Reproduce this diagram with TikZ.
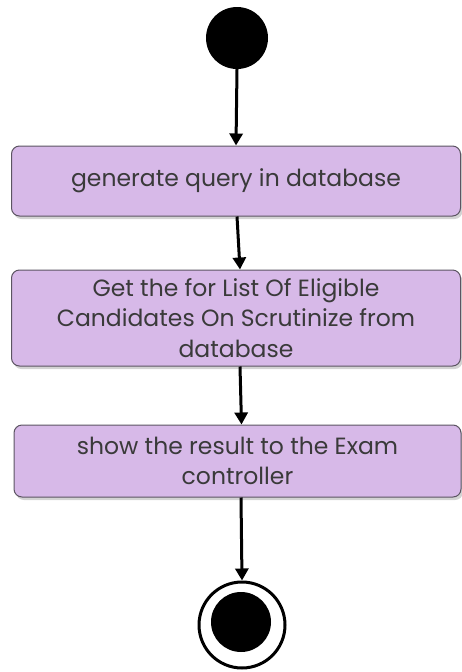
\documentclass[tikz,border=0pt]{standalone}
\usepackage{fontspec}
\setmainfont{Poppins}
\usetikzlibrary{arrows.meta,shadows}
\definecolor{boxfill}{HTML}{D7B9E8}
\definecolor{boxline}{HTML}{5C5462}
\definecolor{txt}{HTML}{3A3A3A}
\begin{document}
\begin{tikzpicture}[x=1pt,y=-1pt,
  act/.style={draw=boxline, line width=1pt, fill=boxfill, rounded corners=8pt,
    text=txt, font=\fontsize{23.5}{30.5}\selectfont, align=center, inner sep=2pt,
    drop shadow={shadow xshift=2pt, shadow yshift=-3pt, opacity=0.35}},
  flow/.style={-{Triangle[length=12pt,width=13pt]}, line width=3pt},
  startnode/.style={circle, fill=black, minimum size=62pt, inner sep=0pt},
  endring/.style={circle, draw=black, line width=3pt, fill=white, minimum size=86pt, inner sep=0pt},
  enddot/.style={circle, fill=black, minimum size=60pt, inner sep=0pt}]
\useasboundingbox (0,0) rectangle (461,672);
\node[startnode] (start) at (237,38) {};
\node[act, minimum width=449pt, minimum height=70pt] (a1) at (236,181) {generate query in database};
\node[act, minimum width=449pt, minimum height=96pt] (a2) at (236,318) {Get the for List Of Eligible\\Candidates On Scrutinize from\\database};
\node[act, minimum width=447pt, minimum height=72pt] (a3) at (237.5,461) {show the result to the Exam\\controller};
\node[endring] (end) at (242,625) {};
\node[enddot] (enddot) at (241,622) {};
\draw[flow] (start.south) -- (a1.north);
\draw[flow] ([xshift=1pt]a1.south) -- ([xshift=4pt]a2.north);
\draw[flow] ([xshift=4pt]a2.south) -- ([xshift=4pt]a3.north);
\draw[flow] ([xshift=3.5pt]a3.south) -- (end.north);
\end{tikzpicture}
\end{document}
